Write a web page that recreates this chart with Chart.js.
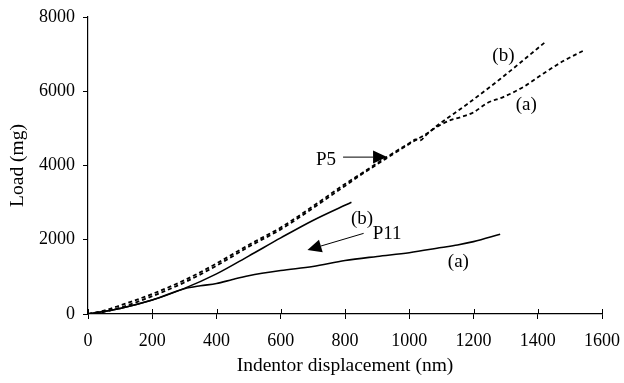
<!DOCTYPE html>
<html>
<head>
<meta charset="utf-8">
<script src="https://cdn.jsdelivr.net/npm/chart.js@4.4.1/dist/chart.umd.min.js"></script>
<style>
  html, body { margin: 0; padding: 0; background: #fff; }
  #wrap { width: 624px; height: 383px; }
</style>
</head>
<body>
<div id="wrap"><canvas id="c" width="624" height="383"></canvas></div>
<script>
// P5 indent, curve (b) - dashed
const p5bX = [0, 50, 100, 200, 300, 400, 500, 600, 700, 800, 850, 925, 1000, 1020, 1035, 1050, 1076, 1180, 1283, 1350, 1424];
const p5bY = [0, 90, 230, 540, 910, 1360, 1860, 2330, 2900, 3500, 3780, 4200, 4600, 4700, 4680, 4800, 5000, 5650, 6330, 6800, 7330];
// P5 indent, curve (a) - dashed
const p5aX = [0, 50, 100, 200, 300, 400, 500, 600, 700, 800, 850, 925, 1000, 1055, 1090, 1128, 1159, 1200, 1242, 1294, 1356, 1418, 1481, 1541];
const p5aY = [0, 60, 170, 480, 850, 1300, 1810, 2280, 2850, 3450, 3750, 4170, 4580, 4860, 5060, 5220, 5300, 5430, 5680, 5850, 6120, 6480, 6820, 7090];
// P11 indent, curve (b) - solid
const p11bX = [0, 100, 200, 300, 400, 500, 600, 700, 820];
const p11bY = [0, 150, 375, 690, 1080, 1560, 2050, 2520, 3010];
// P11 indent, curve (a) - solid
const p11aX = [0, 100, 200, 300, 350, 400, 450, 500, 600, 700, 800, 900, 1000, 1100, 1150, 1200, 1283];
const p11aY = [0, 150, 375, 680, 760, 820, 930, 1030, 1170, 1280, 1440, 1550, 1650, 1790, 1860, 1950, 2150];

const xTicks = [0, 200, 400, 600, 800, 1000, 1200, 1400, 1600];
const yTicks = [0, 2000, 4000, 6000, 8000];

// text labels on the plot (data coordinates)
const labelText = ['(b)', '(a)', 'P5', '(b)', 'P11', '(a)'];
const labelX    = [1293, 1364, 741, 853, 931, 1153];
const labelY    = [6945, 5626, 4145, 2557, 2153, 1400];
// arrows: from (x0,y0) to tip (x1,y1)
const arrowX0 = [794, 858];
const arrowY0 = [4226, 2172];
const arrowX1 = [931, 683];
const arrowY1 = [4226, 1723];

const FONT = 'Liberation Serif, Times New Roman, serif';
const pts = (xs, ys) => xs.map((x, i) => ({ x: x, y: ys[i] }));

const annot = {
  id: 'annot',
  afterDraw(chart) {
    const cx = chart.ctx, xs = chart.scales.x, ys = chart.scales.y;
    cx.save();
    // x ticks also cross above the axis line
    cx.strokeStyle = '#000';
    cx.lineWidth = 1;
    xTicks.forEach(v => {
      const px = Math.round(xs.getPixelForValue(v)) + 0.5;
      cx.beginPath();
      cx.moveTo(px, ys.bottom);
      cx.lineTo(px, ys.bottom - 5);
      cx.stroke();
    });
    cx.fillStyle = '#000';
    cx.font = '19px ' + FONT;
    cx.textAlign = 'center';
    cx.textBaseline = 'middle';
    labelText.forEach((t, i) => {
      cx.fillText(t, xs.getPixelForValue(labelX[i]), ys.getPixelForValue(labelY[i]));
    });
    arrowX0.forEach((_, i) => {
      const x0 = xs.getPixelForValue(arrowX0[i]), y0 = ys.getPixelForValue(arrowY0[i]);
      const x1 = xs.getPixelForValue(arrowX1[i]), y1 = ys.getPixelForValue(arrowY1[i]);
      const a = Math.atan2(y1 - y0, x1 - x0);
      const L = 14, W = 6.5;
      const bx = x1 - L * Math.cos(a), by = y1 - L * Math.sin(a);
      cx.lineWidth = 1;
      cx.beginPath();
      cx.moveTo(x0, y0);
      cx.lineTo(bx, by);
      cx.stroke();
      cx.beginPath();
      cx.moveTo(x1, y1);
      cx.lineTo(bx - W * Math.sin(a), by + W * Math.cos(a));
      cx.lineTo(bx + W * Math.sin(a), by - W * Math.cos(a));
      cx.closePath();
      cx.fill();
    });
    cx.restore();
  }
};

const dashed = { borderColor: '#000', borderWidth: 1.8, borderDash: [4, 3], pointRadius: 0, fill: false, cubicInterpolationMode: 'monotone' };
const solid  = { borderColor: '#000', borderWidth: 1.6, pointRadius: 0, fill: false, cubicInterpolationMode: 'monotone' };

new Chart(document.getElementById('c'), {
  type: 'line',
  data: {
    datasets: [
      Object.assign({ label: 'P5 (b)', data: pts(p5bX, p5bY) }, dashed),
      Object.assign({ label: 'P5 (a)', data: pts(p5aX, p5aY) }, dashed),
      Object.assign({ label: 'P11 (b)', data: pts(p11bX, p11bY) }, solid),
      Object.assign({ label: 'P11 (a)', data: pts(p11aX, p11aY) }, solid),
    ],
  },
  options: {
    responsive: false,
    animation: false,
    devicePixelRatio: 1,
    layout: { padding: { top: 17, right: 22, left: 0, bottom: 0 } },
    plugins: { legend: { display: false }, tooltip: { enabled: false } },
    scales: {
      x: {
        type: 'linear', min: 0, max: 1600,
        afterBuildTicks: s => { s.ticks = xTicks.map(v => ({ value: v })); },
        afterFit: s => { s.height = 69; s.paddingLeft = 0; s.paddingRight = 0; },
        ticks: { color: '#000', font: { family: FONT, size: 18 }, padding: 11, maxRotation: 0, callback: v => String(v) },
        grid: { drawOnChartArea: false, drawTicks: true, tickLength: 5, color: '#000' },
        border: { color: '#000', width: 1.2 },
        title: { display: true, text: 'Indentor displacement (nm)', color: '#000', font: { family: FONT, size: 19.5 }, padding: { top: 0, bottom: 5 } },
      },
      y: {
        min: 0, max: 8000,
        afterBuildTicks: s => { s.ticks = yTicks.map(v => ({ value: v })); },
        afterFit: s => { s.width = 88; s.paddingTop = 0; s.paddingBottom = 0; },
        ticks: { color: '#000', font: { family: FONT, size: 18 }, padding: 8, callback: v => String(v) },
        grid: { drawOnChartArea: false, drawTicks: true, tickLength: 5, color: '#000' },
        border: { color: '#000', width: 1.2 },
        title: { display: true, text: 'Load (mg)', color: '#000', font: { family: FONT, size: 19.5 }, padding: { top: 6, bottom: 0 } },
      },
    },
  },
  plugins: [annot],
});
</script>
</body>
</html>
